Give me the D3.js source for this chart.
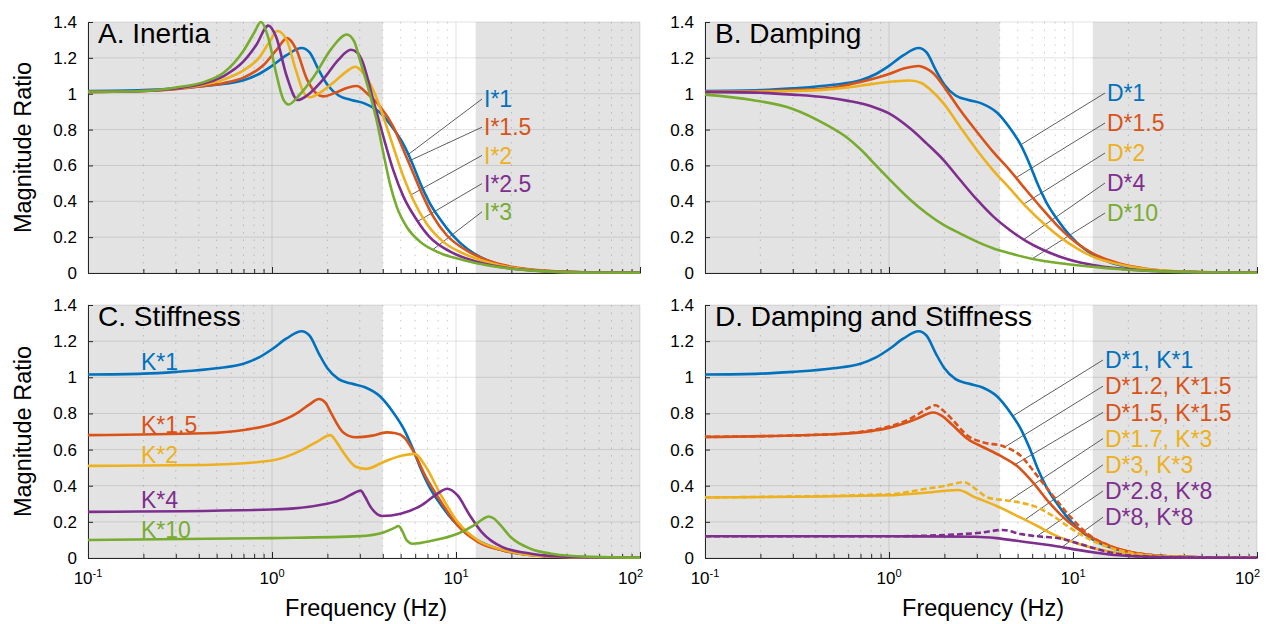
<!DOCTYPE html>
<html>
<head>
<meta charset="utf-8">
<title>Magnitude ratio</title>
<script src="https://cdn.jsdelivr.net/npm/d3@7.9.0/dist/d3.min.js"></script>
<style>
  body { margin: 0; background: #fff; }
  svg text { font-family: "Liberation Sans", Arial, Helvetica, sans-serif; fill: #000; }
</style>
</head>
<body>
<svg id="chart" width="1267" height="624"></svg>
<script>
// ---- values: [frequency Hz, magnitude ratio] ----
const colors = ['#0072BD', '#D95319', '#EDB120', '#7E2F8E', '#77AC30'];
const yTicks = [0, 0.2, 0.4, 0.6, 0.8, 1, 1.2, 1.4];
const shadeBands = [[0.1, 4], [12.8, 100]];

// nominal system, blue in every panel
const base = [[0.1,1.015],[0.2,1.02],[0.3,1.03],[0.5,1.05],[0.7,1.075],[0.85,1.11],[1.0,1.155],[1.2,1.215],
  [1.45,1.255],[1.6,1.23],[1.8,1.13],[2.0,1.05],[2.3,0.99],[2.7,0.965],[3.2,0.945],[3.86,0.895],[4.6,0.8],
  [5.2,0.715],[5.8,0.61],[6.4,0.5],[7.2,0.39],[8.2,0.3],[9.6,0.21],[11.5,0.135],[13.5,0.09],[16,0.058],
  [20,0.032],[30,0.012],[50,0.004],[100,0.001]];

// A. inertia
const inertiaLabels = ['I*1', 'I*1.5', 'I*2', 'I*2.5', 'I*3'];
const inertia15 = [[0.1,1.01],[0.2,1.015],[0.3,1.025],[0.4,1.04],[0.55,1.06],[0.7,1.09],[0.9,1.16],[1.05,1.24],
  [1.21,1.31],[1.35,1.25],[1.55,1.08],[1.75,1.0],[1.9,0.985],[2.2,1.005],[2.6,1.035],[2.89,1.043],[3.3,1.0],
  [3.86,0.93],[4.56,0.816],[5.18,0.686],[5.86,0.556],[6.64,0.426],[7.53,0.314],[8.88,0.212],[10.9,0.138],
  [14.6,0.073],[20,0.035],[30,0.013],[50,0.004],[100,0.001]];
const inertia2 = [[0.1,1.01],[0.2,1.015],[0.3,1.03],[0.4,1.045],[0.55,1.08],[0.7,1.13],[0.85,1.2],[0.97,1.29],
  [1.07,1.35],[1.2,1.3],[1.35,1.13],[1.5,1.0],[1.61,0.98],[1.85,1.01],[2.2,1.07],[2.55,1.125],[2.83,1.15],
  [3.1,1.12],[3.55,1.02],[4.03,0.87],[4.56,0.704],[5.18,0.537],[5.86,0.407],[6.9,0.277],[8.5,0.175],
  [10.9,0.11],[14.6,0.063],[20,0.03],[30,0.011],[50,0.004],[100,0.001]];
const inertia25 = [[0.1,1.01],[0.2,1.015],[0.3,1.03],[0.4,1.05],[0.55,1.1],[0.7,1.18],[0.82,1.27],[0.955,1.38],
  [1.05,1.32],[1.2,1.1],[1.38,0.965],[1.55,0.99],[1.9,1.08],[2.3,1.19],[2.68,1.245],[2.9,1.23],[3.07,1.19],
  [3.55,0.965],[4.03,0.76],[4.56,0.574],[5.18,0.426],[6.12,0.296],[7.2,0.2],[9.3,0.119],[13,0.063],
  [20,0.025],[30,0.01],[50,0.003],[100,0.001]];
const inertia3 = [[0.1,1.01],[0.2,1.015],[0.3,1.035],[0.43,1.066],[0.55,1.12],[0.7,1.24],[0.8,1.34],[0.87,1.40],
  [0.95,1.32],[1.05,1.12],[1.15,0.97],[1.23,0.94],[1.4,0.99],[1.7,1.1],[2.1,1.25],[2.55,1.33],[2.8,1.29],
  [3.0,1.19],[3.4,1.0],[3.7,0.853],[4.03,0.668],[4.37,0.5],[4.76,0.37],[5.39,0.258],[6.37,0.175],
  [7.85,0.119],[10.9,0.073],[15,0.042],[20,0.024],[30,0.009],[50,0.003],[100,0.001]];
const inertiaAnchors = [5.5, 5.5, 5.7, 6.2, 7.5];

// B. damping
const dampingLabels = ['D*1', 'D*1.5', 'D*2', 'D*4', 'D*10'];
const damping15 = [[0.1,1.01],[0.3,1.02],[0.5,1.035],[0.7,1.065],[1.0,1.11],[1.2,1.14],[1.45,1.155],[1.6,1.14],
  [1.74,1.114],[2.05,1.02],[2.43,0.91],[3.0,0.788],[3.67,0.677],[4.53,0.574],[5.56,0.463],[6.9,0.351],
  [8.5,0.249],[10.5,0.166],[12.8,0.11],[17.5,0.056],[25,0.024],[40,0.008],[100,0.001]];
const damping2 = [[0.1,1.01],[0.3,1.015],[0.6,1.035],[0.82,1.055],[1.05,1.068],[1.3,1.074],[1.5,1.06],[1.67,1.025],
  [1.98,0.946],[2.43,0.816],[3.0,0.686],[3.67,0.574],[4.53,0.472],[5.56,0.37],[6.9,0.277],[8.5,0.2],
  [10.5,0.138],[12.8,0.091],[17.5,0.05],[25,0.022],[40,0.008],[100,0.001]];
const damping4 = [[0.1,1.01],[0.2,1.005],[0.3,0.995],[0.45,0.98],[0.6,0.96],[0.8,0.93],[1.0,0.89],[1.3,0.807],
  [1.6,0.723],[1.98,0.63],[2.43,0.52],[3.0,0.41],[3.67,0.317],[4.53,0.24],[5.56,0.178],[6.9,0.128],
  [8.5,0.091],[10.5,0.063],[12.8,0.045],[17.5,0.026],[30,0.01],[50,0.004],[100,0.001]];
const damping10 = [[0.1,0.995],[0.18,0.965],[0.3,0.915],[0.45,0.83],[0.6,0.75],[0.7,0.69],[0.85,0.6],[1.0,0.525],
  [1.3,0.41],[1.6,0.333],[1.98,0.268],[2.43,0.221],[3.0,0.175],[3.67,0.138],[4.53,0.11],[5.8,0.082],
  [8.5,0.054],[12.8,0.035],[17.5,0.022],[30,0.009],[50,0.004],[100,0.001]];
const dampingAnchors = [5.2, 4.9, 5.4, 5.4, 6.0];

// C. stiffness
const stiffnessLabels = ['K*1', 'K*1.5', 'K*2', 'K*4', 'K*10'];
const stiffness15 = [[0.1,0.68],[0.43,0.69],[0.72,0.71],[1.0,0.74],[1.39,0.806],[1.6,0.85],[1.8,0.88],[1.95,0.86],
  [2.1,0.8],[2.44,0.695],[2.85,0.668],[3.5,0.677],[4.2,0.695],[4.7,0.69],[5.2,0.67],[5.8,0.6],[6.8,0.456],
  [8.3,0.31],[10.2,0.18],[13.2,0.088],[17.9,0.042],[25.6,0.016],[40,0.006],[100,0.001]];
const stiffness2 = [[0.1,0.51],[0.43,0.515],[1.0,0.54],[1.47,0.6],[1.8,0.65],[2.07,0.68],[2.25,0.64],[2.44,0.585],
  [2.85,0.505],[3.24,0.493],[4.07,0.533],[5.1,0.567],[5.97,0.576],[6.8,0.51],[8.3,0.346],[10.2,0.2],
  [13.2,0.097],[17.9,0.046],[25.6,0.016],[40,0.006],[100,0.001]];
const stiffness4 = [[0.1,0.255],[1.0,0.268],[1.99,0.3],[2.44,0.327],[2.8,0.36],[3.03,0.373],[3.2,0.34],[3.4,0.29],
  [3.97,0.232],[5.0,0.245],[6.45,0.29],[7.9,0.355],[8.96,0.383],[10.2,0.346],[11.9,0.235],[13.8,0.143],
  [17.9,0.06],[25.6,0.024],[42.5,0.006],[100,0.001]];
const stiffness10 = [[0.1,0.1],[1.0,0.11],[3.0,0.121],[4.07,0.143],[4.6,0.165],[4.87,0.177],[5.1,0.15],[5.4,0.097],
  [5.8,0.079],[7.5,0.097],[10.2,0.134],[12.5,0.18],[14,0.215],[15,0.23],[16,0.22],[17.5,0.18],[19.8,0.116],
  [25.6,0.05],[33,0.024],[55,0.006],[100,0.002]];

// D. damping and stiffness
const comboLabels = ['D*1, K*1', 'D*1.2, K*1.5', 'D*1.5, K*1.5', 'D*1.7, K*3', 'D*3, K*3', 'D*2.8, K*8', 'D*8, K*8'];
const comboD12K15 = [[0.1,0.67],[0.5,0.685],[0.83,0.71],[1.0,0.727],[1.39,0.786],[1.6,0.825],[1.79,0.845],
  [1.95,0.82],[2.19,0.77],[2.69,0.675],[3.3,0.638],[4.14,0.62],[5.2,0.565],[6.4,0.454],[7.8,0.343],[9.6,0.232],
  [11.8,0.14],[15.9,0.066],[22.8,0.025],[40,0.006],[100,0.001]];
const comboD15K15 = [[0.1,0.67],[0.5,0.685],[0.83,0.705],[1.0,0.72],[1.39,0.767],[1.74,0.805],[1.95,0.785],
  [2.19,0.74],[2.69,0.657],[3.3,0.61],[4.04,0.565],[4.95,0.51],[6.07,0.417],[7.44,0.306],[9.1,0.214],
  [11.8,0.131],[15.9,0.066],[22.8,0.025],[40,0.006],[100,0.001]];
const comboD17K3 = [[0.1,0.335],[1.0,0.352],[1.53,0.38],[2.08,0.402],[2.55,0.42],[2.97,0.38],[3.46,0.334],
  [4.25,0.32],[5.2,0.306],[6.4,0.28],[7.8,0.232],[9.6,0.168],[11.8,0.113],[15.9,0.057],[22.8,0.022],[40,0.006],
  [100,0.001]];
const comboD3K3 = [[0.1,0.335],[1.0,0.347],[1.53,0.36],[2.37,0.376],[2.97,0.334],[3.84,0.288],[5.2,0.223],
  [6.4,0.177],[7.8,0.131],[9.6,0.094],[13.7,0.048],[22.8,0.016],[40,0.005],[100,0.001]];
const comboD28K8 = [[0.1,0.12],[1,0.12],[2.3,0.13],[3.13,0.14],[4.14,0.155],[5.2,0.133],[6.4,0.12],[8.5,0.108],
  [10.6,0.082],[13.7,0.048],[17.7,0.022],[26.5,0.007],[50,0.002],[100,0.001]];
const comboD8K8 = [[0.1,0.12],[1,0.12],[2.97,0.118],[3.84,0.11],[4.95,0.095],[6.4,0.08],[8.5,0.062],[10.6,0.045],
  [13.7,0.028],[17.7,0.015],[26,0.006],[50,0.002],[100,0.001]];
const comboAnchors = [4.7, 4.25, 4.83, 4.48, 5.48, 6.37, 8.7];

// ---- layout ----
const plotW = 552;
const c = colors;
const panels = [
  { title: 'A. Inertia', left: 88, top: 22, bottom: 273, yTitle: true, xLabels: false,
    series: [base, inertia15, inertia2, inertia25, inertia3], labels: inertiaLabels,
    colors: c, dashed: [], anchors: inertiaAnchors, labelX: 484, labelY0: 99, labelDy: 28.2 },
  { title: 'B. Damping', left: 705, top: 22, bottom: 273, yTitle: false, xLabels: false,
    series: [base, damping15, damping2, damping4, damping10], labels: dampingLabels,
    colors: c, dashed: [], anchors: dampingAnchors, labelX: 1107, labelY0: 93, labelDy: 30 },
  { title: 'C. Stiffness', left: 88, top: 305, bottom: 558, yTitle: true, xLabels: true,
    series: [base, stiffness15, stiffness2, stiffness4, stiffness10], labels: stiffnessLabels,
    colors: c, dashed: [], anchors: null, labelX: 141, labelVals: [1.085, 0.736, 0.57, 0.321, 0.155] },
  { title: 'D. Damping and Stiffness', left: 705, top: 305, bottom: 558, yTitle: false, xLabels: true,
    series: [base, comboD12K15, comboD15K15, comboD17K3, comboD3K3, comboD28K8, comboD8K8], labels: comboLabels,
    colors: [c[0], c[1], c[1], c[2], c[2], c[3], c[3]], dashed: [1, 3, 5], anchors: comboAnchors,
    labelX: 1105, labelY0: 360, labelDy: 26.2 }
];

const svg = d3.select('#chart');
const axisColor = '#262626';

function valueAt(pts, f) {
  for (let i = 0; i < pts.length - 1; i++) {
    const [f0, v0] = pts[i], [f1, v1] = pts[i + 1];
    if (f >= f0 && f <= f1) {
      const t = (Math.log(f) - Math.log(f0)) / (Math.log(f1) - Math.log(f0));
      return v0 + t * (v1 - v0);
    }
  }
  return pts[pts.length - 1][1];
}

panels.forEach(p => {
  const x = d3.scaleLog().domain([0.1, 100]).range([p.left, p.left + plotW]);
  const y = d3.scaleLinear().domain([0, 1.4]).range([p.bottom, p.top]);
  const g = svg.append('g');
  const h = p.bottom - p.top;

  // background and shaded bands
  g.append('rect').attr('x', p.left).attr('y', p.top).attr('width', plotW).attr('height', h).attr('fill', '#fff');
  shadeBands.forEach(([a, b]) => {
    g.append('rect').attr('x', x(a)).attr('y', p.top)
      .attr('width', x(b) - x(a)).attr('height', h).attr('fill', '#e3e3e3');
  });

  // grid
  const allTicks = x.ticks();
  const isMajor = t => Math.abs(Math.log10(t) - Math.round(Math.log10(t))) < 1e-9;
  g.selectAll('.minor').data(allTicks.filter(t => !isMajor(t))).enter().append('line')
    .attr('x1', d => x(d)).attr('x2', d => x(d)).attr('y1', p.top).attr('y2', p.bottom)
    .attr('stroke', axisColor).attr('stroke-opacity', 0.28).attr('stroke-width', 0.8)
    .attr('stroke-dasharray', '1.5,6');
  g.selectAll('.major').data(allTicks.filter(isMajor)).enter().append('line')
    .attr('x1', d => x(d)).attr('x2', d => x(d)).attr('y1', p.top).attr('y2', p.bottom)
    .attr('stroke', axisColor).attr('stroke-opacity', 0.13);
  g.selectAll('.hgrid').data(yTicks).enter().append('line')
    .attr('x1', p.left).attr('x2', p.left + plotW).attr('y1', d => y(d)).attr('y2', d => y(d))
    .attr('stroke', axisColor).attr('stroke-opacity', 0.13);

  // axes (ticks point inward)
  const ya = g.append('g').attr('transform', `translate(${p.left},0)`)
    .call(d3.axisLeft(y).tickValues(yTicks).tickFormat(d3.format('~g'))
      .tickSizeInner(-5).tickSizeOuter(0).tickPadding(11));
  ya.selectAll('path,line').attr('stroke', axisColor);
  ya.selectAll('text').attr('font-size', 17).attr('fill', '#000');

  const xa = g.append('g').attr('transform', `translate(0,${p.bottom})`)
    .call(d3.axisBottom(x).tickValues(allTicks).tickFormat('').tickSizeInner(-5).tickSizeOuter(0));
  xa.selectAll('path,line').attr('stroke', axisColor);
  xa.selectAll('.tick line').attr('y2', d => isMajor(d) ? -6 : -4);

  if (p.xLabels) {
    allTicks.filter(isMajor).forEach(t => {
      const last = t === 100;
      const txt = g.append('text').attr('x', last ? x(t) + 3 : x(t)).attr('y', p.bottom + 26)
        .attr('text-anchor', last ? 'end' : 'middle').attr('font-size', 17);
      txt.append('tspan').text('10');
      txt.append('tspan').attr('font-size', 11).attr('dy', -7).text(Math.round(Math.log10(t)));
    });
    g.append('text').attr('x', p.left + plotW / 2 + 2).attr('y', p.bottom + 58)
      .attr('text-anchor', 'middle').attr('font-size', 23.5).text('Frequency (Hz)');
  }
  if (p.yTitle) {
    g.append('text').attr('transform', `translate(31,${(p.top + p.bottom) / 2}) rotate(-90)`)
      .attr('text-anchor', 'middle').attr('font-size', 23.5).text('Magnitude Ratio');
  }

  // title
  g.append('text').attr('x', p.left + 10).attr('y', p.top + 21)
    .attr('font-size', 28).text(p.title);

  // leader lines
  if (p.anchors) {
    p.anchors.forEach((f, i) => {
      g.append('line')
        .attr('x1', p.labelX - 2).attr('y1', p.labelY0 + i * p.labelDy)
        .attr('x2', x(f)).attr('y2', y(valueAt(p.series[i], f)))
        .attr('stroke', '#4d4d4d').attr('stroke-width', 0.9);
    });
  }

  // curves
  const line = d3.line().x(d => x(d[0])).y(d => y(d[1])).curve(d3.curveMonotoneX);
  p.series.forEach((s, i) => {
    g.append('path').datum(s).attr('d', line).attr('fill', 'none')
      .attr('stroke', p.colors[i]).attr('stroke-width', 2.6)
      .attr('stroke-dasharray', p.dashed.includes(i) ? '6,3' : null);
  });

  // series labels
  p.labels.forEach((lab, i) => {
    const ly = p.labelVals ? y(p.labelVals[i]) : p.labelY0 + i * p.labelDy;
    g.append('text').attr('x', p.labelX).attr('y', ly).attr('dy', '0.36em')
      .attr('font-size', 23).style('fill', p.colors[i]).text(lab);
  });
});
</script>
</body>
</html>
